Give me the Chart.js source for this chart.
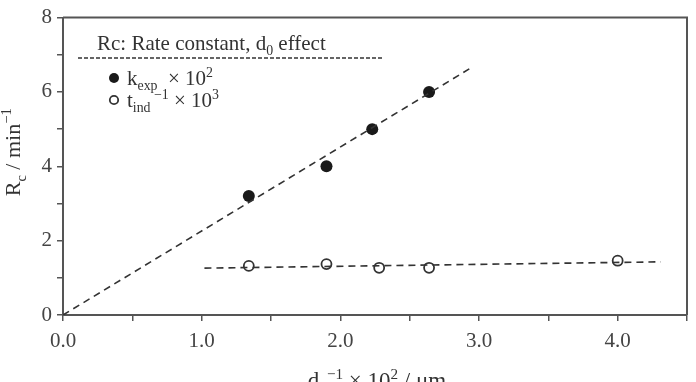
<!DOCTYPE html>
<html>
<head>
<meta charset="utf-8">
<script src="https://cdn.jsdelivr.net/npm/chart.js@4/dist/chart.umd.min.js"></script>
<style>
  html, body { margin: 0; padding: 0; background: #fff; }
  #wrap { width: 696px; height: 382px; }
</style>
</head>
<body>
<div id="wrap"><canvas id="grafica"></canvas></div>
<script>
// datos
const kX = [1.34, 1.90, 2.23, 2.64];
const kY = [3.2, 4.0, 5.0, 6.0];
const tX = [1.34, 1.90, 2.28, 2.64, 4.0];
const tY = [1.32, 1.37, 1.27, 1.27, 1.46];
const fitKX = [0, 2.93];
const fitKY = [0, 6.62];
const fitTX = [1.02, 4.31];
const fitTY = [1.26, 1.43];
const xTicks = ['0.0', '1.0', '2.0', '3.0', '4.0'];
const yTicks = ['0', '2', '4', '6', '8'];

const SERIF = '"Liberation Serif", "DejaVu Serif", serif';
const INK = '#333';

function pts(xs, ys) {
    return xs.map((x, i) => ({ x: x, y: ys[i] }));
}

// texto con subindices / superindices: [texto, 0 normal | 1 sub | 2 sup]
function richWidth(ctx, parts, size) {
    let w = 0;
    parts.forEach(p => {
        const s = p[1] === 0 ? size : size * 0.66;
        ctx.font = s + 'px ' + SERIF;
        w += ctx.measureText(p[0]).width;
    });
    return w;
}
function drawRich(ctx, parts, x, y, size, align) {
    let cx = x;
    if (align === 'center') cx = x - richWidth(ctx, parts, size) / 2;
    ctx.textBaseline = 'alphabetic';
    ctx.textAlign = 'left';
    parts.forEach(p => {
        const s = p[1] === 0 ? size : size * 0.66;
        const dy = p[1] === 1 ? size * 0.25 : (p[1] === 2 ? -size * 0.4 : 0);
        ctx.font = s + 'px ' + SERIF;
        ctx.fillText(p[0], cx, y + dy);
        cx += ctx.measureText(p[0]).width;
    });
}

const decorPlugin = {
    id: 'decor',
    afterDraw(chart) {
        const ctx = chart.ctx;
        const a = chart.chartArea;
        ctx.save();
        // marco superior y derecho
        ctx.strokeStyle = '#555';
        ctx.lineWidth = 2;
        ctx.beginPath();
        ctx.moveTo(a.left, a.top);
        ctx.lineTo(a.right, a.top);
        ctx.lineTo(a.right, a.bottom);
        ctx.stroke();

        ctx.fillStyle = INK;
        // titulo eje y
        ctx.save();
        ctx.translate(20, (a.top + a.bottom) / 2 - 14);
        ctx.rotate(-Math.PI / 2);
        drawRich(ctx, [['R', 0], ['c', 1], [' / min', 0], ['\u22121', 2]], 0, 0, 22, 'center');
        ctx.restore();
        // titulo eje x
        drawRich(ctx, [['d', 0], ['0', 1], ['\u22121', 2], [' \u00d7 10', 0], ['2', 2], [' / \u03bcm', 0]],
            (a.left + a.right) / 2 + 2, 388, 23, 'center');

        // leyenda
        const lx = a.left;
        drawRich(ctx, [['Rc: Rate constant, d', 0], ['0', 1], [' effect', 0]], lx + 34, 50, 21, 'left');
        ctx.strokeStyle = '#333';
        ctx.lineWidth = 1.5;
        ctx.setLineDash([4, 2]);
        ctx.beginPath();
        ctx.moveTo(lx + 15, 58);
        ctx.lineTo(lx + 319, 58);
        ctx.stroke();
        ctx.setLineDash([]);

        ctx.beginPath();
        ctx.arc(lx + 51, 78, 5, 0, Math.PI * 2);
        ctx.fillStyle = '#1a1a1a';
        ctx.fill();
        ctx.fillStyle = INK;
        drawRich(ctx, [['k', 0], ['exp', 1], ['  \u00d7 10', 0], ['2', 2]], lx + 64, 85, 21, 'left');

        ctx.beginPath();
        ctx.arc(lx + 51, 100, 4.2, 0, Math.PI * 2);
        ctx.strokeStyle = '#333';
        ctx.lineWidth = 1.8;
        ctx.stroke();
        drawRich(ctx, [['t', 0], ['ind', 1], [' \u22121', 2], [' \u00d7 10', 0], ['3', 2]], lx + 64, 107, 21, 'left');
        ctx.restore();
    }
};

function crearGrafica() {
    const ctx = document.getElementById('grafica').getContext('2d');
    new Chart(ctx, {
        type: 'scatter',
        data: {
            datasets: [
                {
                    label: 'ajuste k',
                    type: 'line',
                    data: pts(fitKX, fitKY),
                    borderColor: '#333',
                    borderWidth: 1.6,
                    borderDash: [7, 5],
                    pointRadius: 0,
                    fill: false
                },
                {
                    label: 'ajuste t',
                    type: 'line',
                    data: pts(fitTX, fitTY),
                    borderColor: '#333',
                    borderWidth: 1.6,
                    borderDash: [7, 5],
                    pointRadius: 0,
                    fill: false
                },
                {
                    label: 'kexp x 10^2',
                    data: pts(kX, kY),
                    pointRadius: 6,
                    pointBackgroundColor: '#1a1a1a',
                    pointBorderColor: '#1a1a1a',
                    pointBorderWidth: 0
                },
                {
                    label: 'tind^-1 x 10^3',
                    data: pts(tX, tY),
                    pointRadius: 5,
                    pointBackgroundColor: '#fff',
                    pointBorderColor: '#333',
                    pointBorderWidth: 1.8
                }
            ]
        },
        options: {
            responsive: true,
            maintainAspectRatio: false,
            animation: false,
            layout: { padding: { top: 13, right: 9, left: 0, bottom: 0 } },
            plugins: {
                legend: { display: false },
                tooltip: { enabled: false }
            },
            scales: {
                x: {
                    type: 'linear',
                    min: 0,
                    max: 4.5,
                    afterFit: s => { s.height = 67; },
                    border: { display: true, color: '#555', width: 2 },
                    grid: { drawOnChartArea: false, drawTicks: true, tickLength: 6, color: '#555', lineWidth: 1.5 },
                    ticks: {
                        stepSize: 0.5,
                        padding: 8,
                        color: '#444',
                        font: { family: SERIF, size: 21 },
                        maxRotation: 0,
                        autoSkip: false,
                        callback: v => (Math.abs(v % 1) < 1e-9 ? xTicks[Math.round(v)] : '')
                    }
                },
                y: {
                    min: 0,
                    max: 8,
                    afterFit: s => { s.width = 63; },
                    border: { display: true, color: '#555', width: 2 },
                    grid: { drawOnChartArea: false, drawTicks: true, tickLength: 6, color: '#555', lineWidth: 1.5 },
                    ticks: {
                        stepSize: 1,
                        padding: 5,
                        color: '#444',
                        font: { family: SERIF, size: 21 },
                        autoSkip: false,
                        callback: v => (v % 2 === 0 ? yTicks[v / 2] : '')
                    }
                }
            }
        },
        plugins: [decorPlugin]
    });
}

document.addEventListener('DOMContentLoaded', crearGrafica);
</script>
</body>
</html>
